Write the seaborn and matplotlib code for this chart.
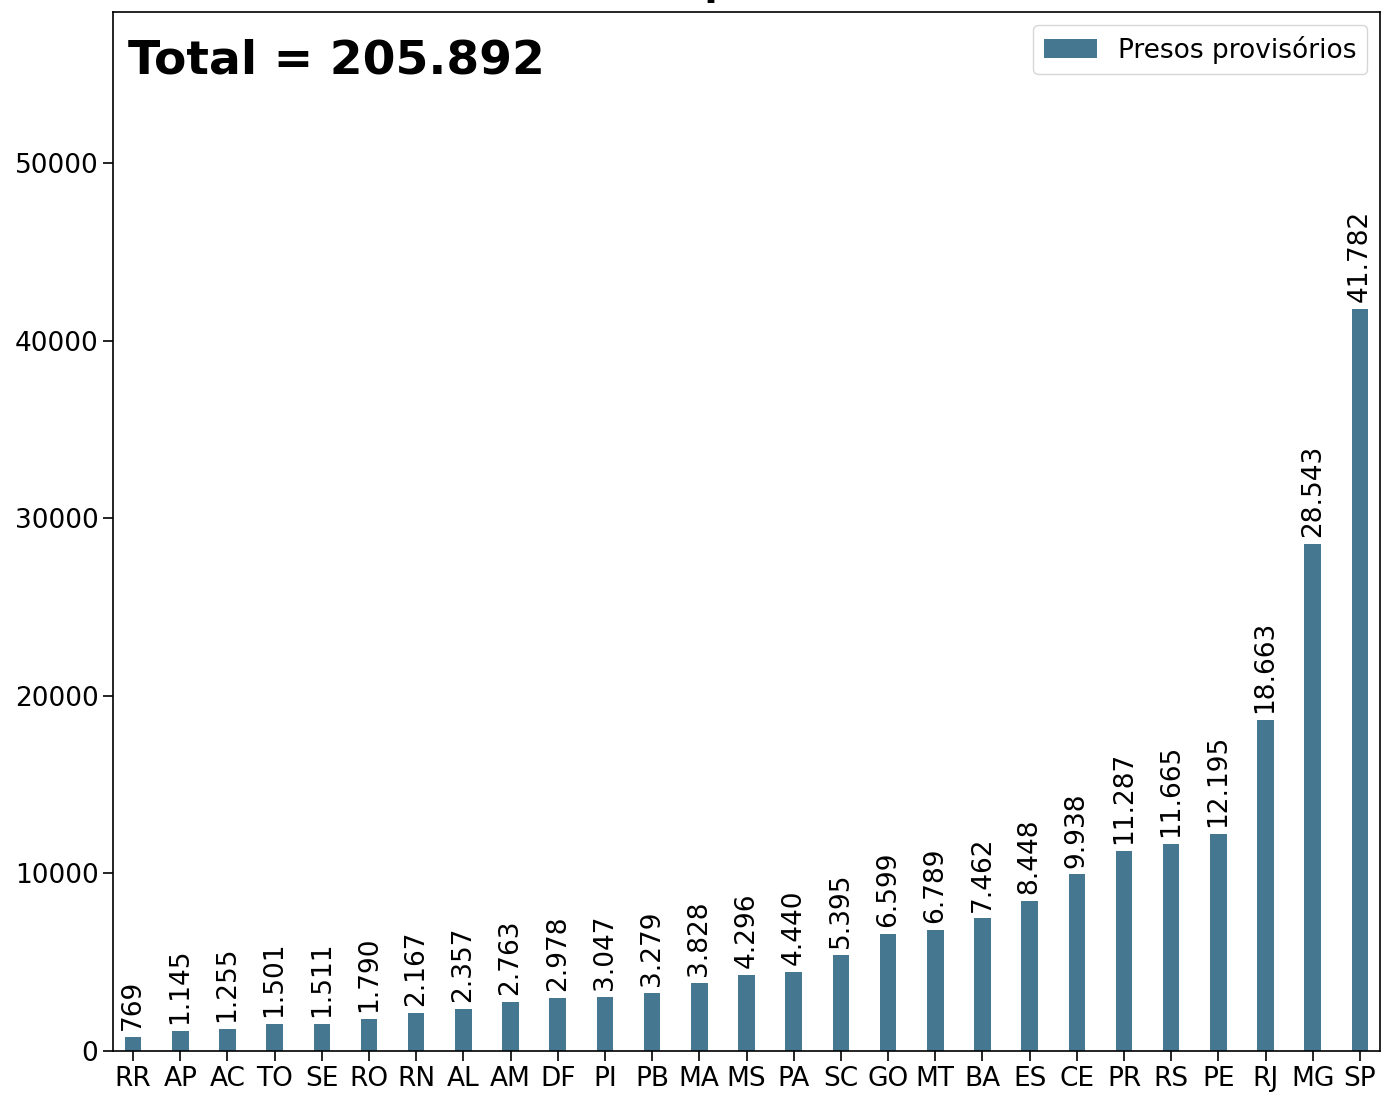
import matplotlib
matplotlib.use('Agg')
import matplotlib.pyplot as plt
import seaborn as sns
import pandas as pd

# dados: presos provisórios por UF
estados = ['RR', 'AP', 'AC', 'TO', 'SE', 'RO', 'RN', 'AL', 'AM', 'DF', 'PI', 'PB', 'MA',
           'MS', 'PA', 'SC', 'GO', 'MT', 'BA', 'ES', 'CE', 'PR', 'RS', 'PE', 'RJ', 'MG', 'SP']
presos = [769, 1145, 1255, 1501, 1511, 1790, 2167, 2357, 2763, 2978, 3047, 3279, 3828,
          4296, 4440, 5395, 6599, 6789, 7462, 8448, 9938, 11287, 11665, 12195, 18663, 28543, 41782]

df = pd.DataFrame({'UF': estados, 'presos': presos})
total = sum(presos)

def fmt(v):
    return f'{v:,}'.replace(',', '.')

fig = plt.figure(figsize=(13.81, 10.94), dpi=100)
ax = fig.add_axes([113/1381, 43/1094, 1267/1381, 1039/1094])

cor = '#457890'
sns.barplot(data=df, x='UF', y='presos', color=cor, width=0.35, saturation=1,
            label='Presos provisórios', ax=ax)

ax.bar_label(ax.containers[0], labels=[fmt(v) for v in presos], rotation=90,
             padding=5, fontsize=19)

n = len(estados)
ax.set_xlim(-0.425, n - 1 + 0.425)
ax.set_ylim(0, max(presos) * 1.4)
ax.set_xlabel('')
ax.set_ylabel('')
ax.tick_params(axis='both', labelsize=19, length=7, width=1.2)
for s in ax.spines.values():
    s.set_linewidth(1.2)

ax.text(0.012, 0.941, f'Total = {fmt(total)}', transform=ax.transAxes,
        fontsize=34, fontweight='bold', va='baseline')
ax.legend(loc='upper right', fontsize=19)
# titulo quase todo fora da figura, só aparece a perna do "p"
ax.set_title('Presos provisórios', fontsize=28, fontweight='bold', pad=12.5)

fig.savefig('out.png', dpi=100)
